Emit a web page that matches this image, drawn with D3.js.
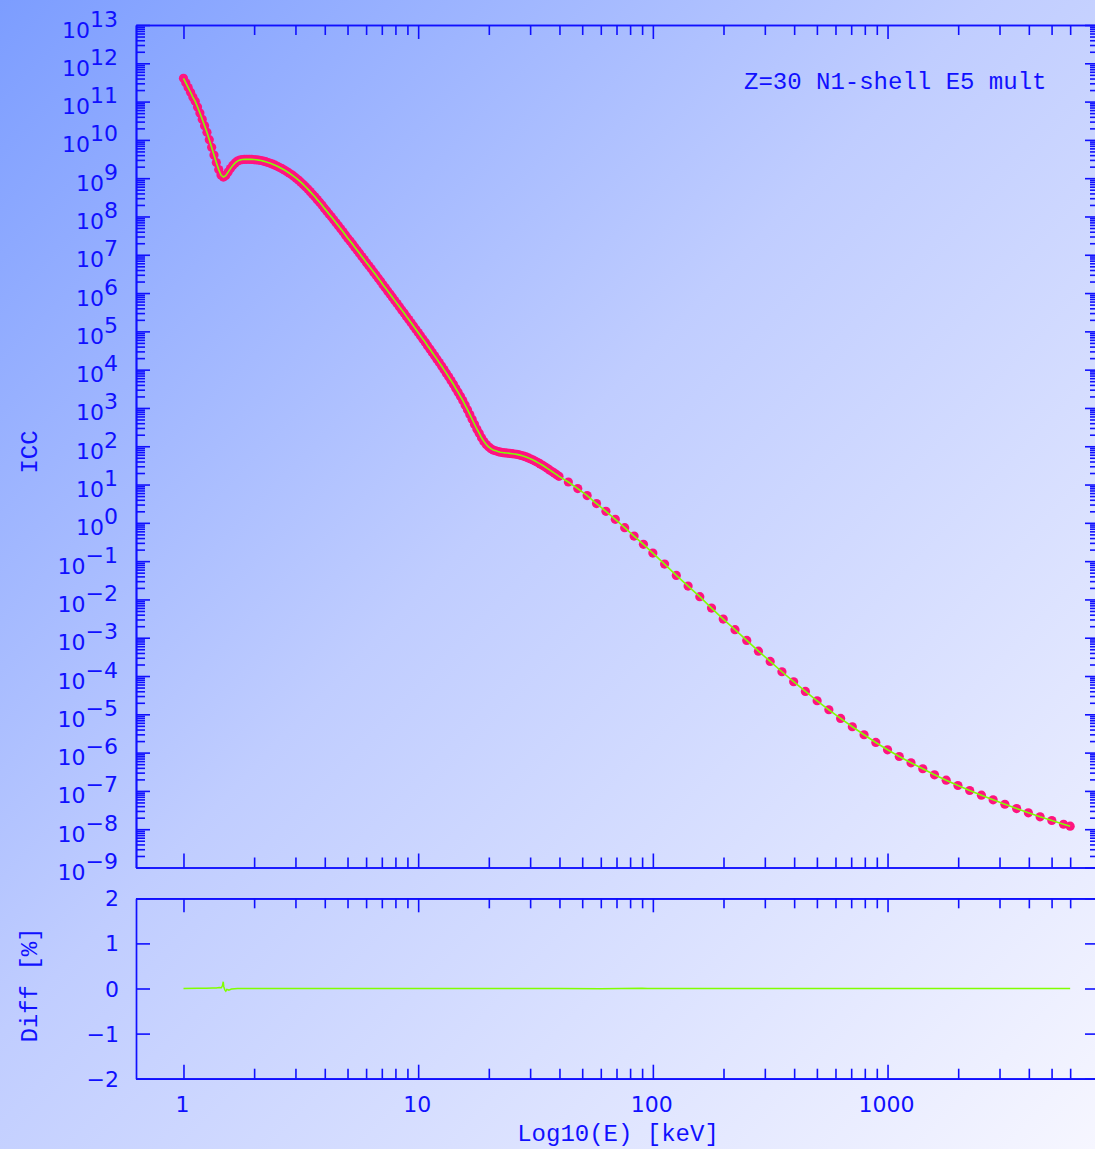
<!DOCTYPE html>
<html>
<head>
<meta charset="utf-8">
<script src="https://cdn.jsdelivr.net/npm/d3@7"></script>
<style>
  html, body { margin: 0; padding: 0; background: #ffffff; }
  svg { display: block; }
</style>
</head>
<body>
<div id="chart"></div>
<script>
// ---------------- DATA ----------------
const titleText = "Z=30 N1-shell E5 mult";
const xAxisTitle = "Log10(E) [keV]";
const yAxisTitle = "ICC";
const diffAxisTitle = "Diff [%]";

// Energies of the plotted ICC points, keV
const energyKeV = [
  1.000,1.023,1.047,1.072,1.096,1.122,1.148,1.175,1.202,1.230,
  1.259,1.288,1.318,1.349,1.380,1.413,1.445,1.479,1.514,1.549,
  1.585,1.622,1.660,1.698,1.738,1.778,1.820,1.862,1.905,1.950,
  1.995,2.042,2.089,2.138,2.188,2.239,2.291,2.344,2.399,2.455,
  2.512,2.570,2.630,2.692,2.754,2.818,2.884,2.951,3.020,3.090,
  3.162,3.236,3.311,3.388,3.467,3.548,3.631,3.715,3.802,3.890,
  3.981,4.074,4.169,4.266,4.365,4.467,4.571,4.677,4.786,4.898,
  5.012,5.129,5.248,5.370,5.495,5.623,5.754,5.888,6.026,6.166,
  6.310,6.457,6.607,6.761,6.918,7.079,7.244,7.413,7.586,7.762,
  7.943,8.128,8.318,8.511,8.710,8.913,9.120,9.333,9.550,9.772,
  10.00,10.23,10.47,10.72,10.96,11.22,11.48,11.75,12.02,12.30,
  12.59,12.88,13.18,13.49,13.80,14.13,14.45,14.79,15.14,15.49,
  15.85,16.22,16.60,16.98,17.38,17.78,18.20,18.62,19.05,19.50,
  19.95,20.42,20.89,21.38,21.88,22.39,22.91,23.44,23.99,24.55,
  25.12,25.70,26.30,26.92,27.54,28.18,28.84,29.51,30.20,30.90,
  31.62,32.36,33.11,33.88,34.67,35.48,36.31,37.15,38.02,38.90,
  39.81,
  43.65,47.86,52.48,57.54,63.10,69.18,75.86,83.18,91.20,100.0,
  112.2,125.9,141.3,158.5,177.8,199.5,223.9,251.2,281.8,316.2,354.8,398.1,
  446.7,501.2,562.3,631.0,707.9,794.3,891.3,1000,1122,1259,1413,1585,
  1778,1995,2239,2512,2818,3162,3548,3981,4467,5012,5623,
  6000
];

// log10(ICC) at each energy above
const iccLog10 = [
  11.607,11.490,11.367,11.244,11.119,11.006,10.857,10.701,10.539,10.371,
  10.199,10.006,9.807,9.603,9.407,9.224,9.081,9.028,9.067,9.159,
  9.250,9.334,9.399,9.446,9.472,9.486,9.491,9.493,9.492,9.491,
  9.486,9.480,9.472,9.462,9.446,9.431,9.410,9.389,9.365,9.339,
  9.310,9.279,9.248,9.214,9.175,9.135,9.094,9.049,8.999,8.950,
  8.895,8.837,8.777,8.715,8.649,8.581,8.513,8.440,8.370,8.297,
  8.218,8.145,8.067,7.991,7.915,7.834,7.758,7.677,7.599,7.515,
  7.434,7.359,7.280,7.199,7.118,7.037,6.954,6.875,6.789,6.711,
  6.632,6.548,6.470,6.384,6.306,6.219,6.138,6.057,5.974,5.893,
  5.809,5.725,5.642,5.561,5.477,5.391,5.310,5.224,5.140,5.054,
  4.970,4.887,4.798,4.714,4.625,4.539,4.450,4.361,4.275,4.184,
  4.095,4.001,3.909,3.813,3.716,3.619,3.515,3.413,3.303,3.196,
  3.076,2.956,2.830,2.705,2.574,2.451,2.342,2.221,2.127,2.044,
  1.984,1.937,1.900,1.882,1.861,1.845,1.835,1.827,1.822,1.814,
  1.806,1.798,1.788,1.775,1.759,1.741,1.720,1.696,1.667,1.639,
  1.607,1.573,1.539,1.503,1.464,1.424,1.383,1.341,1.299,1.257,
  1.215,
  1.066,0.894,0.711,0.502,0.301,0.092,-0.125,-0.345,-0.562,-0.789,
  -1.076,-1.372,-1.651,-1.928,-2.226,-2.513,-2.790,-3.070,-3.350,-3.619,-3.888,-4.149,
  -4.403,-4.646,-4.881,-5.108,-5.325,-5.534,-5.735,-5.926,-6.101,-6.266,-6.422,-6.579,
  -6.720,-6.859,-6.989,-7.112,-7.232,-7.348,-7.460,-7.572,-7.677,-7.773,-7.870,
  -7.922
];

// Difference panel (percent)
const diffEnergyKeV = [1.0, 1.15, 1.25, 1.33, 1.38, 1.42, 1.45, 1.465, 1.477, 1.485, 1.50, 1.515, 1.53, 1.56, 1.60, 1.70, 2.0, 5.0, 20, 40, 60, 90, 95, 100, 300, 1000, 3000, 6000];
const diffPercent   = [0.0, 0.003, 0.006, 0.012, 0.010, 0.020, 0.015, 0.060, 0.150, 0.040, -0.030, -0.060, -0.020, -0.035, -0.010, 0.0, 0.0, 0.0, 0.0, 0.0, -0.005, 0.008, 0.0, 0.0, 0.0, 0.0, 0.0, 0.0];

// Tick values
const xMajorTicks = [1, 10, 100, 1000];
const xMajorLabels = ["1", "10", "100", "1000"];
const yExponents = d3.range(-9, 14);           // 10^-9 ... 10^13
const diffTicks = [-2, -1, 0, 1, 2];
const diffLabels = ["\u22122", "\u22121", "0", "1", "2"];

// ---------------- LAYOUT / STYLE ----------------
const W = 1095, H = 1149;
const left = 136, right = 1099;
const mainTop = 25, mainBottom = 867.5;
const diffTop = 898.3, diffBottom = 1078.7;
const blue = "#1010ff";
const pink = "#ff1480";
const green = "#80ff00";

const svg = d3.select("#chart").append("svg")
  .attr("width", W).attr("height", H)
  .attr("viewBox", `0 0 ${W} ${H}`);

const defs = svg.append("defs");
const grad = defs.append("linearGradient").attr("id", "bg")
  .attr("x1", 0).attr("y1", 0).attr("x2", 1).attr("y2", 1);
grad.append("stop").attr("offset", 0).attr("stop-color", "#7c9dff");
grad.append("stop").attr("offset", 0.45).attr("stop-color", "#c0cdff");
grad.append("stop").attr("offset", 1).attr("stop-color", "#f6f6ff");
svg.append("rect").attr("width", W).attr("height", H).attr("fill", "url(#bg)");

// Scales
const x = d3.scaleLog().domain([0.6276, 7962]).range([left, right]);
const y = d3.scaleLog().domain([1e-9, 1e13]).range([mainBottom, mainTop]);
const yd = d3.scaleLinear().domain([-2, 2]).range([diffBottom, diffTop]);

// Minor tick values
const xMinor = [];
[1, 10, 100, 1000].forEach(d => { for (let k = 2; k <= 9; k++) { const v = k * d; if (v <= 6000) xMinor.push(v); } });
const yMajor = yExponents.map(e => Math.pow(10, e));
const yMinor = [];
yExponents.slice(0, -1).forEach(e => { for (let k = 2; k <= 9; k++) yMinor.push(k * Math.pow(10, e)); });

function styleAxis(g) {
  g.selectAll("path").attr("stroke", blue).attr("stroke-width", 1.7);
  g.selectAll("line").attr("stroke", blue).attr("stroke-width", 1.6);
  g.selectAll("text").remove();
}
function addAxis(gen, tx, ty) {
  svg.append("g").attr("transform", `translate(${tx},${ty})`).call(gen).call(styleAxis);
}

// ---- main panel axes
addAxis(d3.axisBottom(x).tickValues(xMajorTicks).tickSize(-14).tickSizeOuter(0).tickFormat(""), 0, mainBottom);
addAxis(d3.axisBottom(x).tickValues(xMinor).tickSize(-10).tickSizeOuter(0).tickFormat(""), 0, mainBottom);
addAxis(d3.axisTop(x).tickValues(xMajorTicks).tickSize(-14).tickSizeOuter(0).tickFormat(""), 0, mainTop);
addAxis(d3.axisTop(x).tickValues(xMinor).tickSize(-10).tickSizeOuter(0).tickFormat(""), 0, mainTop);
addAxis(d3.axisLeft(y).tickValues(yMajor).tickSize(-14).tickSizeOuter(0).tickFormat(""), left, 0);
addAxis(d3.axisLeft(y).tickValues(yMinor).tickSize(-9).tickSizeOuter(0).tickFormat(""), left, 0);
addAxis(d3.axisRight(y).tickValues(yMajor).tickSize(-14).tickSizeOuter(0).tickFormat(""), right, 0);
addAxis(d3.axisRight(y).tickValues(yMinor).tickSize(-9).tickSizeOuter(0).tickFormat(""), right, 0);

// ---- diff panel axes
addAxis(d3.axisBottom(x).tickValues(xMajorTicks).tickSize(-14).tickSizeOuter(0).tickFormat(""), 0, diffBottom);
addAxis(d3.axisBottom(x).tickValues(xMinor).tickSize(-10).tickSizeOuter(0).tickFormat(""), 0, diffBottom);
addAxis(d3.axisTop(x).tickValues(xMajorTicks).tickSize(-14).tickSizeOuter(0).tickFormat(""), 0, diffTop);
addAxis(d3.axisTop(x).tickValues(xMinor).tickSize(-10).tickSizeOuter(0).tickFormat(""), 0, diffTop);
addAxis(d3.axisLeft(yd).tickValues(diffTicks).tickSize(-14).tickSizeOuter(0).tickFormat(""), left, 0);
addAxis(d3.axisRight(yd).tickValues(diffTicks).tickSize(-14).tickSizeOuter(0).tickFormat(""), right, 0);

// ---- tick labels
const tickFont = "'DejaVu Sans', 'Noto Sans', sans-serif";
const ylab = svg.append("g").attr("fill", blue).attr("font-family", tickFont).attr("font-size", 22);
yExponents.forEach(e => {
  const t = ylab.append("text").attr("x", 118).attr("y", y(Math.pow(10, e)) + 12.5).attr("text-anchor", "end");
  t.append("tspan").text("10");
  t.append("tspan").attr("dy", -11).text(e < 0 ? "\u2212" + (-e) : String(e));
});
const dlab = svg.append("g").attr("fill", blue).attr("font-family", tickFont).attr("font-size", 22);
diffTicks.forEach((v, i) => {
  dlab.append("text").attr("x", 119).attr("y", yd(v) + 8).attr("text-anchor", "end").text(diffLabels[i]);
});
const xlab = svg.append("g").attr("fill", blue).attr("font-family", tickFont).attr("font-size", 22);
xMajorTicks.forEach((v, i) => {
  xlab.append("text").attr("x", x(v) - 1).attr("y", 1112).attr("text-anchor", "middle").text(xMajorLabels[i]);
});

// ---- titles (monospace)
const monoFont = "'Liberation Mono', 'DejaVu Sans Mono', monospace";
svg.append("text").attr("x", 744).attr("y", 89).attr("fill", blue)
  .attr("font-family", monoFont).attr("font-size", 24).text(titleText);
svg.append("text").attr("x", 618).attr("y", 1141).attr("text-anchor", "middle").attr("fill", blue)
  .attr("font-family", monoFont).attr("font-size", 24).text(xAxisTitle);
svg.append("text").attr("transform", "translate(37,452) rotate(-90)").attr("text-anchor", "middle").attr("fill", blue)
  .attr("font-family", monoFont).attr("font-size", 24).text(yAxisTitle);
svg.append("text").attr("transform", "translate(37,985) rotate(-90)").attr("text-anchor", "middle").attr("fill", blue)
  .attr("font-family", monoFont).attr("font-size", 24).text(diffAxisTitle);

// ---- data: markers then fitted line
const pts = energyKeV.map((e, i) => ({ e, v: Math.pow(10, iccLog10[i]) }));
svg.append("g").selectAll("circle").data(pts).join("circle")
  .attr("cx", d => x(d.e)).attr("cy", d => y(d.v)).attr("r", 4.6).attr("fill", pink);
svg.append("path").datum(pts)
  .attr("d", d3.line().x(d => x(d.e)).y(d => y(d.v)))
  .attr("fill", "none").attr("stroke", green).attr("stroke-width", 1.6);

// ---- diff line
const dpts = diffEnergyKeV.map((e, i) => ({ e, v: diffPercent[i] }));
svg.append("path").datum(dpts)
  .attr("d", d3.line().x(d => x(d.e)).y(d => yd(d.v)))
  .attr("fill", "none").attr("stroke", green).attr("stroke-width", 1.5);
</script>
</body>
</html>
